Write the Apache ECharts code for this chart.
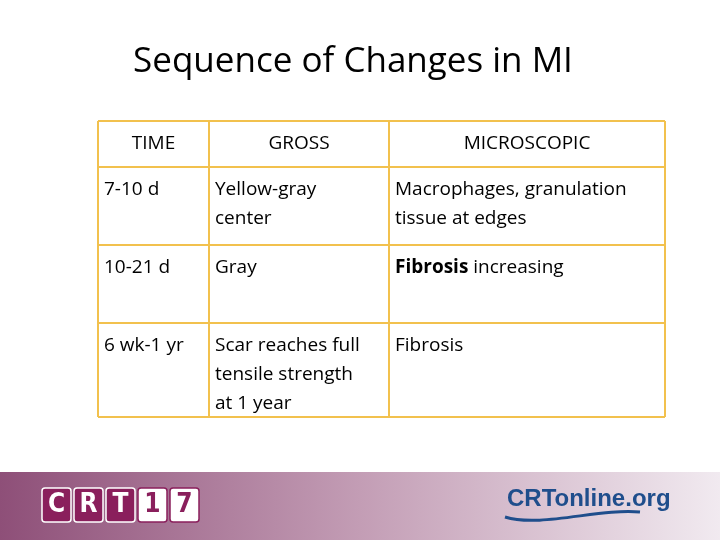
<!DOCTYPE html>
<html><head><meta charset="utf-8">
<script src="https://cdn.jsdelivr.net/npm/echarts@6/dist/echarts.min.js"></script>
<style>html,body{margin:0;padding:0;background:#fff}#c{width:720px;height:540px}</style>
</head><body><div id="c"></div>
<script>
var title = 'Sequence of Changes in MI';
var headers = ['TIME', 'GROSS', 'MICROSCOPIC'];
var timeCol = ['7-10 d', '10-21 d', '6 wk-1 yr'];
var grossCol = ['Yellow-gray\ncenter', 'Gray', 'Scar reaches full\ntensile strength\nat 1 year'];
var microCol = ['Macrophages, granulation\ntissue at edges', '{b|Fibrosis} increasing', 'Fibrosis'];
var logoChars = ['C', 'R', 'T', '1', '7'];

var colX = [98, 209, 389, 665];
var rowY = [121, 167, 245, 323, 417];
var border = '#f2c14e';
var font = '"Open Sans", "Liberation Sans", sans-serif';
var els = [];

els.push({ type: 'text', x: 353, y: 62, style: { text: title, font: '35px ' + font, fill: '#000', textAlign: 'center', textVerticalAlign: 'middle' } });

// grid lines
for (var i = 0; i < colX.length; i++) {
    els.push({ type: 'line', shape: { x1: colX[i], y1: rowY[0], x2: colX[i], y2: rowY[4] }, style: { stroke: border, lineWidth: 2 } });
}
for (var j = 0; j < rowY.length; j++) {
    els.push({ type: 'line', shape: { x1: colX[0], y1: rowY[j], x2: colX[3], y2: rowY[j] }, style: { stroke: border, lineWidth: 2 } });
}
// headers
for (var h = 0; h < headers.length; h++) {
    els.push({ type: 'text', x: (colX[h] + colX[h + 1]) / 2, y: 144, style: { text: headers[h], font: '19px ' + font, fill: '#000', textAlign: 'center', textVerticalAlign: 'middle' } });
}
// body rows
var cols = [timeCol, grossCol, microCol];
for (var r = 0; r < timeCol.length; r++) {
    for (var c = 0; c < 3; c++) {
        els.push({
            type: 'text', x: colX[c] + 6, y: rowY[r + 1] + 8,
            style: {
                text: cols[c][r], font: '19px ' + font, fill: '#000', lineHeight: 29,
                rich: { b: { fontWeight: 'bold', fontSize: 19, fontFamily: font } }
            }
        });
    }
}

// footer band
els.push({ type: 'rect', shape: { x: 0, y: 472, width: 720, height: 68 },
    style: { fill: new echarts.graphic.LinearGradient(0, 0, 1, 0, [
        { offset: 0, color: '#8e4f78' }, { offset: 0.5, color: '#c39db5' }, { offset: 1, color: '#f1eaf0' }]) } });
for (var k = 0; k < logoChars.length; k++) {
    var dark = k < 3;
    els.push({ type: 'rect', shape: { x: 42 + k * 32, y: 488, width: 29, height: 34, r: 3 },
        style: { fill: dark ? '#8a1f5c' : '#fff', stroke: dark ? '#fff' : '#8a1f5c', lineWidth: 1.5 } });
    els.push({ type: 'text', x: 56.5 + k * 32, y: 505, style: { text: logoChars[k], font: 'bold 26px "DejaVu Sans Condensed", sans-serif', fill: dark ? '#fff' : '#8a1f5c', textAlign: 'center', textVerticalAlign: 'middle' } });
}
els.push({ type: 'text', x: 507, y: 487, style: { text: 'CRTonline.org', font: 'bold 24px "Liberation Sans", sans-serif', fill: '#1f4e8c' } });
els.push({ type: 'bezierCurve', shape: { x1: 505, y1: 517, x2: 640, y2: 512, cpx1: 540, cpy1: 528, cpx2: 600, cpy2: 508 }, style: { stroke: '#1f4e8c', lineWidth: 3, fill: null } });

var chart = echarts.init(document.getElementById('c'));
chart.setOption({ graphic: { elements: els } });
</script></body></html>
